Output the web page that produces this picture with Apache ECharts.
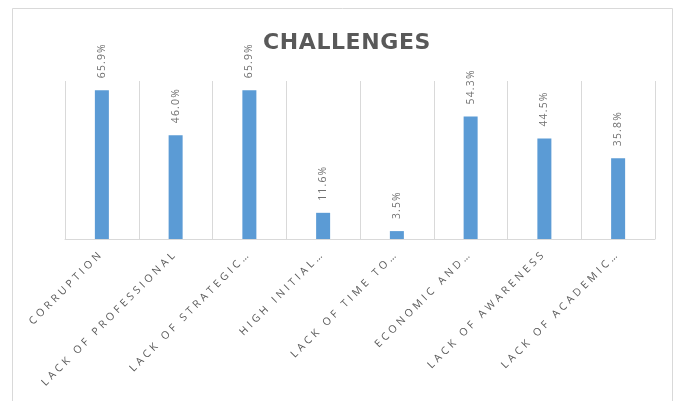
<!DOCTYPE html>
<html>
<head>
<meta charset="utf-8">
<script src="https://cdn.jsdelivr.net/npm/echarts@6/dist/echarts.min.js"></script>
<style>html,body{margin:0;padding:0;background:#fff;}#c{width:677px;height:401px;}</style>
</head>
<body>
<div id="c"></div>
<script>
const titleText = "CHALLENGES";
const categories = ["CORRUPTION", "LACK OF PROFESSIONAL", "LACK OF STRATEGIC…", "HIGH INITIAL…", "LACK OF TIME TO…", "ECONOMIC AND…", "LACK OF AWARENESS", "LACK OF ACADEMIC…"];
const values = [65.9, 46.0, 65.9, 11.6, 3.5, 54.3, 44.5, 35.8];

// letter spacing for text, keyed by font size (text stays real text)
(function () {
  const proto = CanvasRenderingContext2D.prototype;
  if (!('letterSpacing' in proto)) return;
  const origFill = proto.fillText, origMeasure = proto.measureText;
  function ls(ctx) {
    const f = ctx.font || '';
    let s = '0px';
    if (/10\.5px/.test(f)) s = '3.4px';
    else if (/10\.4px/.test(f)) s = '1.2px';
    else if (/22px/.test(f)) s = '0.6px';
    if (ctx.letterSpacing !== s) ctx.letterSpacing = s;
  }
  proto.fillText = function () { ls(this); return origFill.apply(this, arguments); };
  proto.measureText = function () { ls(this); return origMeasure.apply(this, arguments); };
})();

const chart = echarts.init(document.getElementById('c'), null, {renderer: 'canvas'});
chart.setOption({
  animation: false,
  backgroundColor: '#fff',
  title: {
    text: titleText, left: 258, top: 27,
    textStyle: {fontFamily: 'DejaVu Sans', fontWeight: 'bold', fontSize: 22, color: '#595959'}
  },
  graphic: [{
    type: 'rect', shape: {x: 12.5, y: 8.5, width: 660, height: 420},
    style: {fill: 'none', stroke: '#d9d9d9', lineWidth: 1}, silent: true, z: -1
  }],
  grid: {left: 65, right: 22, top: 81, bottom: 162, containLabel: false},
  xAxis: {
    type: 'category', data: categories, boundaryGap: true,
    axisLine: {show: true, lineStyle: {color: '#d9d9d9', width: 1}},
    axisTick: {show: false},
    splitLine: {show: true, lineStyle: {color: '#d9d9d9', width: 1}},
    axisLabel: {interval: 0, rotate: 45, margin: 13, color: '#595959', fontFamily: 'Open Sans', fontSize: 10.5}
  },
  yAxis: {type: 'value', min: 0, max: 70, show: false},
  series: [{
    type: 'bar', data: values, barWidth: 14,
    itemStyle: {color: '#5b9bd5'},
    label: {
      show: true, position: 'top', rotate: 90, align: 'left', verticalAlign: 'middle', distance: 12,
      formatter: p => p.value.toFixed(1) + '%',
      color: '#707070', fontFamily: 'Open Sans', fontSize: 10.4
    }
  }]
});
</script>
</body>
</html>
